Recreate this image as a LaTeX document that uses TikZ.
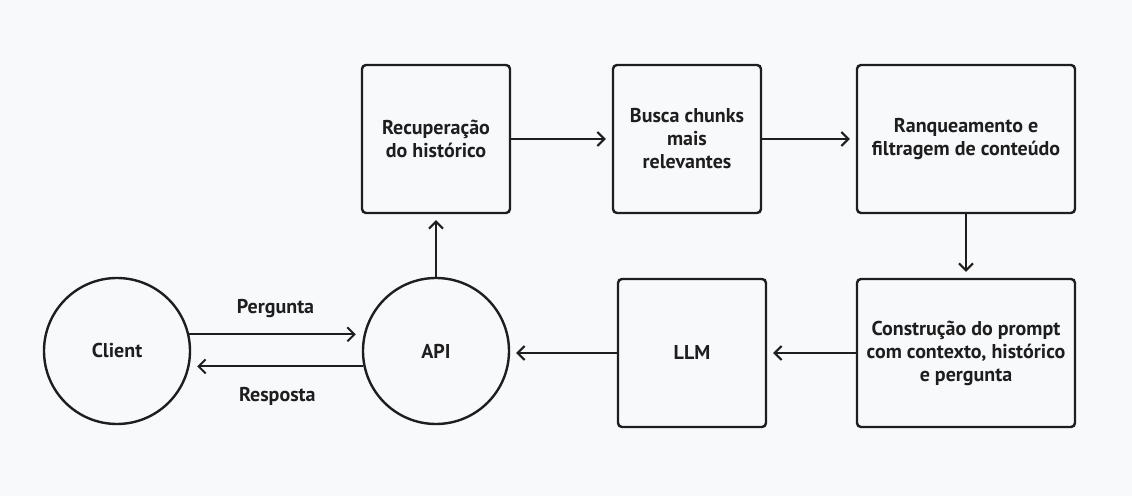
\documentclass[tikz,border=0pt]{standalone}
\usepackage{fontspec}
\setmainfont{PT Sans}
\usetikzlibrary{arrows.meta,positioning}
\definecolor{bgcol}{RGB}{248,249,251}
\definecolor{ink}{RGB}{30,30,30}

\begin{document}
\begin{tikzpicture}[
  x=0.5pt, y=-0.5pt,
  font=\fontsize{10}{11.5}\selectfont\bfseries,
  >={Straight Barb[length=3.5pt,width=7pt]},
  proc/.style={draw=ink, fill=bgcol, rounded corners=2pt, line width=1.2pt, align=center, minimum width=74pt, minimum height=74pt, inner sep=2pt, text=ink},
  circ/.style={draw=ink, fill=bgcol, circle, line width=1.2pt, minimum size=73pt, inner sep=0pt, text=ink},
  flow/.style={->, line width=1pt, draw=ink, shorten >=3pt},
  lbl/.style={text=ink, inner sep=1pt},
]
% ---- canvas ----
\fill[bgcol] (0,0) rectangle (1132,496);
\useasboundingbox (0,0) rectangle (1132,496);

% ---- client side ----
\node[circ] (client) at (117,351) {Client};
\node[circ] (api)    at (436,351) {API};

% ---- pipeline ----
\node[proc] (hist)  at (436,139) {Recuperação\\do histórico};
\node[proc] (busca) at (687,139) {Busca chunks\\mais\\relevantes};
\node[proc, minimum width=109pt] (rank)   at (966,139) {Ranqueamento e\\filtragem de conteúdo};
\node[proc, minimum width=109pt] (prompt) at (966,353) {Construção do prompt\\com contexto, histórico\\e pergunta};
\node[proc] (llm)   at (692,353) {LLM};

% ---- request / response ----
\draw[flow] (client.13) -- node[lbl, above=7pt] {Pergunta} (client.13 -| api.west);
\draw[flow] (api.192) -- node[lbl, below=9pt] {Resposta} (api.192 -| client.east);

% ---- flows ----
\draw[flow] (api.north) -- (hist.south);
\draw[flow] (hist.east) -- (busca.west);
\draw[flow] (busca.east) -- (rank.west);
\draw[flow] (rank.south) -- (prompt.north);
\draw[flow] (prompt.west) -- (llm.east);
\draw[flow] (llm.west) -- (llm.west -| api.east);
\end{tikzpicture}
\end{document}
